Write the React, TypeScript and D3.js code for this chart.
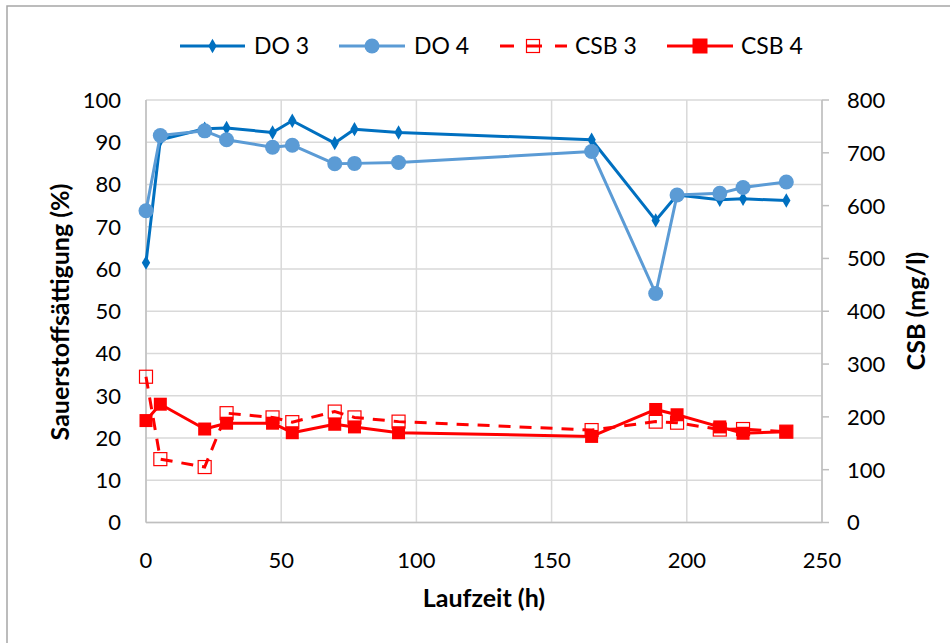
import React from "react";
import * as d3 from "d3";

const times = [0, 5.3, 21.7, 29.8, 46.8, 54.1, 69.8, 77.1, 93.4, 164.8, 188.5, 196.4, 212.2, 220.8, 236.8];
const do3 = [61.5, 90.6, 93.2, 93.4, 92.3, 95.1, 89.8, 93.1, 92.3, 90.6, 71.5, 77.5, 76.4, 76.6, 76.2];
const do4 = [73.8, 91.6, 92.7, 90.6, 88.8, 89.3, 84.9, 85.0, 85.2, 87.8, 54.2, 77.5, 77.9, 79.3, 80.6];
const csb3 = [276, 120, 105, 207, 199, 190, 210, 199, 191, 175, 191, 189, 176, 177, 172];
const csb4 = [193, 224, 177, 188, 188, 170, 186, 181, 170, 163, 214, 204, 181, 169, 172];

const xTicks = [0, 50, 100, 150, 200, 250];
const yLeftTicks = [0, 10, 20, 30, 40, 50, 60, 70, 80, 90, 100];
const yRightTicks = [0, 100, 200, 300, 400, 500, 600, 700, 800];

const FONT = "Lato, 'Open Sans', sans-serif";
const C_DO3 = "#0070C0";
const C_DO4 = "#5B9BD5";
const C_RED = "#FF0000";

export default function App() {
  const W = 950, H = 643;
  const x = d3.scaleLinear().domain([0, 250]).range([146, 822]);
  const yL = d3.scaleLinear().domain([0, 100]).range([522.5, 100]);
  const yR = d3.scaleLinear().domain([0, 800]).range([522.5, 100]);

  const lineL = d3.line<[number, number]>().x(d => x(d[0])).y(d => yL(d[1]));
  const lineR = d3.line<[number, number]>().x(d => x(d[0])).y(d => yR(d[1]));
  const pts = (vals: number[]) => times.map((t, i) => [t, vals[i]] as [number, number]);

  const diamond = d3.symbol().type(d3.symbolDiamond).size(60)();
  const LY = 46;

  return (
    <svg width={W} height={H} style={{ display: "block", position: "absolute", left: 0, top: 0 }}>
      <rect x={0} y={0} width={W} height={H} fill="#fff" />
      <rect x={7} y={6} width={W + 10} height={H + 10} fill="none" stroke="#a6a6a6" strokeWidth={1.5} />

      {/* grid */}
      {yLeftTicks.map(t => (
        <line key={"gy" + t} x1={x(0)} x2={x(250)} y1={yL(t)} y2={yL(t)} stroke="#d9d9d9" strokeWidth={1.5} />
      ))}
      {xTicks.map(t => (
        <line key={"gx" + t} x1={x(t)} x2={x(t)} y1={yL(0)} y2={yL(100)} stroke="#d9d9d9" strokeWidth={1.5} />
      ))}
      {/* axes */}
      <line x1={x(0)} x2={x(250)} y1={yL(0)} y2={yL(0)} stroke="#bfbfbf" strokeWidth={1.5} />
      <line x1={x(0)} x2={x(0)} y1={yL(0)} y2={yL(100)} stroke="#bfbfbf" strokeWidth={1.5} />
      <line x1={x(250)} x2={x(250)} y1={yR(0)} y2={yR(800)} stroke="#bfbfbf" strokeWidth={1.5} />
      {yRightTicks.map(t => (
        <line key={"rt" + t} x1={x(250)} x2={x(250) + 7} y1={yR(t)} y2={yR(t)} stroke="#bfbfbf" strokeWidth={1.5} />
      ))}

      {/* tick labels */}
      {yLeftTicks.map(t => (
        <text key={"lt" + t} x={121} y={yL(t)} dy="0.36em" textAnchor="end" fontFamily={FONT} fontSize={22} fill="#000">{t}</text>
      ))}
      {yRightTicks.map(t => (
        <text key={"rl" + t} x={847} y={yR(t)} dy="0.36em" textAnchor="start" fontFamily={FONT} fontSize={22} fill="#000">{t}</text>
      ))}
      {xTicks.map(t => (
        <text key={"xl" + t} x={x(t)} y={560} dy="0.36em" textAnchor="middle" fontFamily={FONT} fontSize={22} fill="#000">{t}</text>
      ))}

      {/* axis titles */}
      <text x={484} y={598} dy="0.36em" textAnchor="middle" fontFamily={FONT} fontWeight="bold" fontSize={25} fill="#000">Laufzeit (h)</text>
      <text transform="translate(60,312) rotate(-90)" dy="0.36em" textAnchor="middle" fontFamily={FONT} fontWeight="bold" fontSize={25} fill="#000">Sauerstoffsättigung (%)</text>
      <text transform="translate(916,311) rotate(-90)" dy="0.36em" textAnchor="middle" fontFamily={FONT} fontWeight="bold" fontSize={25} fill="#000">CSB (mg/l)</text>

      {/* DO3 */}
      <path d={lineL(pts(do3)) || ""} fill="none" stroke={C_DO3} strokeWidth={3} strokeLinejoin="round" />
      {pts(do3).map((p, i) => (
        <path key={"d3" + i} d={diamond || ""} transform={`translate(${x(p[0])},${yL(p[1])})`} fill={C_DO3} />
      ))}
      {/* DO4 */}
      <path d={lineL(pts(do4)) || ""} fill="none" stroke={C_DO4} strokeWidth={3} strokeLinejoin="round" />
      {pts(do4).map((p, i) => (
        <circle key={"d4" + i} cx={x(p[0])} cy={yL(p[1])} r={7.5} fill={C_DO4} />
      ))}
      {/* CSB3 */}
      <path d={lineR(pts(csb3)) || ""} fill="none" stroke={C_RED} strokeWidth={3} strokeDasharray="12,9" />
      {pts(csb3).map((p, i) => (
        <rect key={"c3" + i} x={x(p[0]) - 6.5} y={yR(p[1]) - 6.5} width={13} height={13} fill="none" stroke={C_RED} strokeWidth={1.2} />
      ))}
      {/* CSB4 */}
      <path d={lineR(pts(csb4)) || ""} fill="none" stroke={C_RED} strokeWidth={3} strokeLinejoin="round" />
      {pts(csb4).map((p, i) => (
        <rect key={"c4" + i} x={x(p[0]) - 6.5} y={yR(p[1]) - 6.5} width={13} height={13} fill={C_RED} />
      ))}

      {/* legend */}
      <g fontFamily={FONT} fontSize={23}>
        <line x1={180} x2={245} y1={LY} y2={LY} stroke={C_DO3} strokeWidth={3} />
        <path d={diamond || ""} transform={`translate(212.5,${LY})`} fill={C_DO3} />
        <text x={254} y={LY} dy="0.36em">DO 3</text>

        <line x1={339} x2={405} y1={LY} y2={LY} stroke={C_DO4} strokeWidth={3} />
        <circle cx={372} cy={LY} r={7.5} fill={C_DO4} />
        <text x={414} y={LY} dy="0.36em">DO 4</text>

        <line x1={500} x2={514} y1={LY} y2={LY} stroke={C_RED} strokeWidth={3} />
        <rect x={526.5} y={LY - 6.5} width={13} height={13} fill="#fff" stroke={C_RED} strokeWidth={1.2} />
        <line x1={526} x2={542} y1={LY} y2={LY} stroke={C_RED} strokeWidth={3} />
        <line x1={555} x2={567} y1={LY} y2={LY} stroke={C_RED} strokeWidth={3} />
        <text x={575} y={LY} dy="0.36em">CSB 3</text>

        <line x1={667} x2={733} y1={LY} y2={LY} stroke={C_RED} strokeWidth={3} />
        <rect x={692.5} y={LY - 7.5} width={15} height={15} fill={C_RED} />
        <text x={741} y={LY} dy="0.36em">CSB 4</text>
      </g>
    </svg>
  );
}
